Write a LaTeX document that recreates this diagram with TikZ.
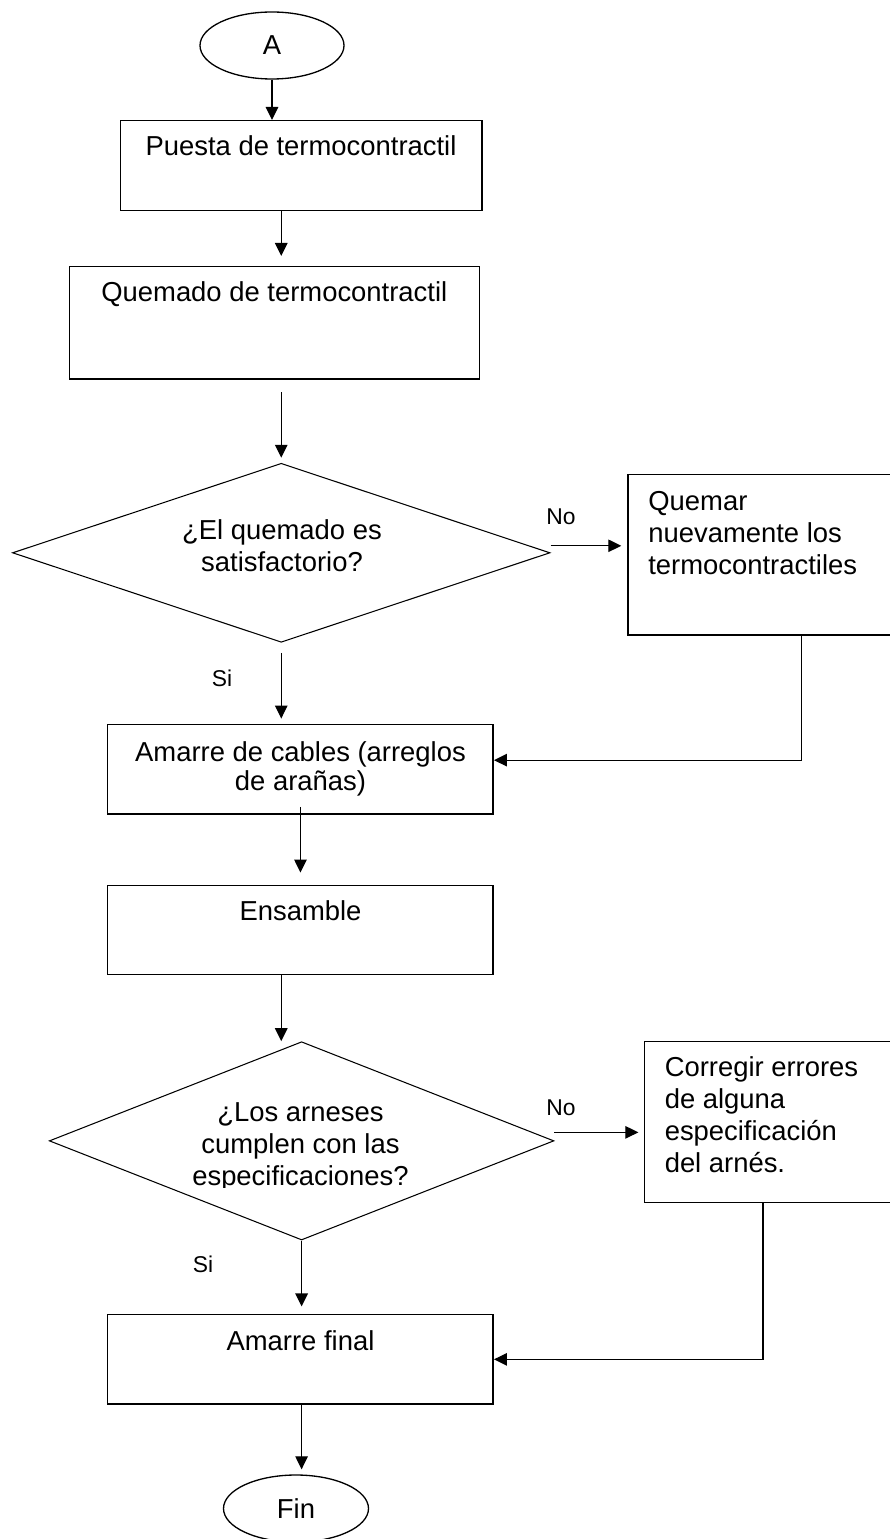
\documentclass[tikz,border=0pt]{standalone}
\usepackage{fontspec}
\setmainfont{Liberation Sans}
\usetikzlibrary{shapes.geometric,arrows.meta}

\begin{document}
\begin{tikzpicture}[>={Triangle[length=0.26cm,width=0.25cm]},
    stepbox/.style={draw, line width=0.85pt, inner sep=0pt},
    decision/.style={draw, diamond, line width=0.6pt, inner sep=0pt},
    terminal/.style={draw, ellipse, line width=0.75pt, inner sep=0pt, minimum width=2.88cm, minimum height=1.34cm, font=\fontsize{15.6}{18.2}\selectfont},
    txt/.style={inner sep=0pt, anchor=base, font=\fontsize{15.6}{18.2}\selectfont},
    lbl/.style={inner sep=0pt, anchor=base, font=\fontsize{13}{15}\selectfont},
    flow/.style={->, line width=0.7pt}]
    \useasboundingbox (0,0) rectangle (17.78,-30.78);
    % shapes
    \node[terminal] (A) at (5.44,-0.91) {A};
    \node[stepbox, minimum width=7.23cm, minimum height=1.8cm] (b1) at (6.027,-3.314) {};
    \node[stepbox, minimum width=8.2cm, minimum height=2.246cm] (b2) at (5.486,-6.457) {};
    \node[decision, minimum width=10.75cm, minimum height=3.58cm] (q1) at (5.625,-11.056) {};
    \node[stepbox, minimum width=6.944cm, minimum height=3.214cm] (b3) at (16.032,-11.093) {};
    \node[stepbox, minimum width=7.71cm, minimum height=1.794cm] (b4) at (6.009,-15.383) {};
    \node[stepbox, minimum width=7.71cm, minimum height=1.788cm] (b5) at (6.009,-18.6) {};
    \node[decision, minimum width=10.092cm, minimum height=3.966cm] (q2) at (6.032,-22.817) {};
    \node[stepbox, minimum width=5.508cm, minimum height=3.22cm] (b6) at (15.646,-22.444) {};
    \node[stepbox, minimum width=7.71cm, minimum height=1.786cm] (b7) at (6.009,-27.187) {};
    \node[terminal, minimum width=2.9cm] (fin) at (5.92,-30.17) {Fin};
    % texts (base = last line)
    \node[txt] (t1) at (6.02,-3.114) {Puesta de termocontractil};
    \node[txt] (t2) at (5.486,-6.04) {Quemado de termocontractil};
    \node[txt, align=center] (t3) at (5.64,-11.434) {¿El quemado es\\satisfactorio?};
    \node[txt, anchor=base west, align=left] (t4) at (12.96,-11.48) {Quemar\\nuevamente los\\termocontractiles};
    \node[txt, align=center, font=\fontsize{15.6}{16.5}\selectfont] (t5) at (6.01,-15.814) {Amarre de cables (arreglos\\de arañas)};
    \node[txt] (t6) at (6.01,-18.414) {Ensamble};
    \begin{scope}
        \clip (0,-20) rectangle (17.78,-23.74);
        \node[txt, align=center] (t7) at (6.01,-23.714) {¿Los arneses\\cumplen con las\\especificaciones?};
    \end{scope}
    \node[txt, anchor=base west, align=left] (t8) at (13.288,-23.446) {Corregir errores\\de alguna\\especificación\\del arnés.};
    \node[txt] (t9) at (6.01,-27.014) {Amarre final};
    \node[lbl] (no1) at (11.22,-10.486) {No};
    \node[lbl] (si1) at (4.44,-13.72) {Si};
    \node[lbl] (no2) at (11.22,-22.3) {No};
    \node[lbl] (si2) at (4.06,-25.454) {Si};
    % connectors
    \draw[flow] (A) -- (A |- b1.north);
    \draw[flow, shorten >=0.2cm] (b1.south -| q1) -- (b2.north -| q1);
    \draw[flow, shorten <=0.25cm, shorten >=0.1cm] (b2.south -| q1) -- (q1.north);
    \draw[flow, shorten >=0.12cm] ([yshift=0.14cm]q1.east) -- ([yshift=0.14cm]q1.east -| b3.west);
    \draw[flow, shorten <=0.2cm, shorten >=0.1cm] (q1.south) -- (q1 |- b4.north);
    \draw[flow] (b3.south) |- ([yshift=0.18cm]b4.east);
    \draw[flow, shorten <=-0.16cm, shorten >=0.24cm] (b4.south) -- (b5.north);
    \draw[flow] (b5.south -| q1) -- (q2.north -| q1);
    \draw[flow, shorten >=0.11cm] ([yshift=0.17cm]q2.east) -- ([yshift=0.17cm]q2.east -| b6.west);
    \draw[flow, shorten >=0.15cm] (q2.south) -- (q2 |- b7.north);
    \draw[flow] ([xshift=-0.386cm]b6.south) |- (b7.east);
    \draw[flow, shorten >=0.1cm] (b7.south -| q2) -- (q2 |- fin.north);
\end{tikzpicture}
\end{document}
